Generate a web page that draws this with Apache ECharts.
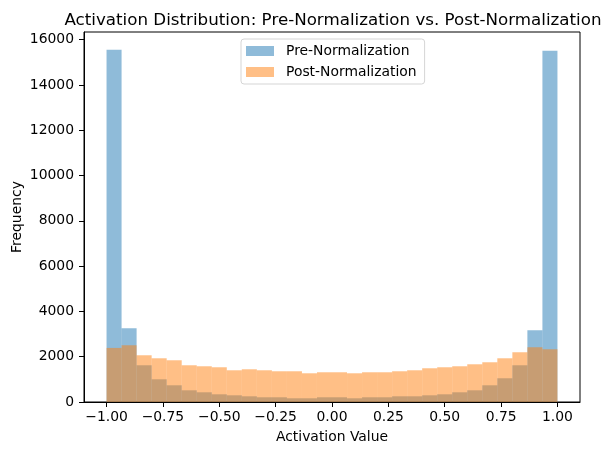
<!DOCTYPE html>
<html>
<head>
<meta charset="utf-8">
<script src="https://cdn.jsdelivr.net/npm/echarts@6/dist/echarts.min.js"></script>
<style>html,body{margin:0;padding:0;background:#fff}#c{width:608px;height:455px}</style>
</head>
<body>
<div id="c"></div>
<script>
// 30 equal bins over [-1, 1]
const binStart = -1;
const binEnd = 1;
const binCount = 30;
const preCounts = [15560, 3257, 1622, 1003, 738, 517, 429, 340, 296, 252, 208, 208, 164, 164, 208,
                   208, 164, 208, 208, 252, 252, 296, 340, 429, 517, 738, 1048, 1622, 3169, 15510];
const postCounts = [2388, 2506, 2064, 1931, 1843, 1622, 1578, 1534, 1401, 1445, 1401, 1357, 1357, 1268, 1313,
                    1313, 1268, 1313, 1313, 1357, 1401, 1490, 1534, 1578, 1666, 1755, 1931, 2197, 2418, 2329];
const xTicks = [-1, -0.75, -0.5, -0.25, 0, 0.25, 0.5, 0.75, 1];
const yTicks = [0, 2000, 4000, 6000, 8000, 10000, 12000, 14000, 16000];
const seriesNames = ['Pre-Normalization', 'Post-Normalization'];

const binW = (binEnd - binStart) / binCount;
function toRows(counts) {
  return counts.map((c, i) => [binStart + i * binW, binStart + (i + 1) * binW, c]);
}
function renderHist(params, api) {
  const a = api.coord([api.value(0), api.value(2)]);
  const b = api.coord([api.value(1), 0]);
  return {
    type: 'rect',
    shape: { x: a[0], y: a[1], width: b[0] - a[0], height: b[1] - a[1] },
    style: { fill: api.visual('color') }
  };
}
const FONT = 'DejaVu Sans';
const chart = echarts.init(document.getElementById('c'), null, { renderer: 'canvas' });
chart.setOption({
  animation: false,
  backgroundColor: '#fff',
  title: {
    text: 'Activation Distribution: Pre-Normalization vs. Post-Normalization',
    left: 328, top: 7, textAlign: 'center',
    textStyle: { fontFamily: FONT, fontSize: 16.7, fontWeight: 'normal', color: '#000' }
  },
  legend: {
    data: seriesNames,
    orient: 'vertical',
    left: 241, top: 39,
    icon: 'rect', itemWidth: 28, itemHeight: 10, itemGap: 5,
    padding: [4, 8, 4, 5],
    borderColor: '#d5d5d5', borderWidth: 1, borderRadius: 3,
    textStyle: { fontFamily: FONT, fontSize: 13.9, color: '#000', lineHeight: 16, padding: [0, 0, 0, 7] }
  },
  grid: { left: 84, right: 28, top: 32, bottom: 53, containLabel: false, outerBoundsMode: 'none',
    show: true, borderColor: '#000', borderWidth: 1, backgroundColor: 'transparent' },
  xAxis: {
    type: 'value', min: -1.1, max: 1.1,
    name: 'Activation Value', nameLocation: 'middle', nameGap: 28, nameMoveOverlap: false,
    nameTextStyle: { fontFamily: FONT, fontSize: 13.9, color: '#000' },
    axisLine: { show: true, onZero: false, lineStyle: { color: '#000', width: 1 } },
    axisTick: { show: true, customValues: xTicks, length: 5, lineStyle: { color: '#000' } },
    axisLabel: { customValues: xTicks, margin: 8, fontFamily: FONT, fontSize: 13.9, color: '#000',
      formatter: v => (v < 0 ? '\u2212' : '') + Math.abs(v).toFixed(2) },
    splitLine: { show: false }
  },
  yAxis: {
    type: 'value', min: 0, max: 16340,
    name: 'Frequency', nameLocation: 'middle', nameGap: 60, nameRotate: 90, nameMoveOverlap: false,
    nameTextStyle: { fontFamily: FONT, fontSize: 13.9, color: '#000' },
    axisLine: { show: true, onZero: false, lineStyle: { color: '#000', width: 1 } },
    axisTick: { show: true, customValues: yTicks, length: 5, lineStyle: { color: '#000' } },
    axisLabel: { customValues: yTicks, margin: 10, fontFamily: FONT, fontSize: 13.9, color: '#000',
      formatter: v => String(v) },
    splitLine: { show: false }
  },
  series: [
    { name: seriesNames[0], type: 'custom', renderItem: renderHist, data: toRows(preCounts),
      encode: { x: [0, 1], y: 2 }, itemStyle: { color: 'rgba(31,119,180,0.5)' } },
    { name: seriesNames[1], type: 'custom', renderItem: renderHist, data: toRows(postCounts),
      encode: { x: [0, 1], y: 2 }, itemStyle: { color: 'rgba(255,127,14,0.5)' } }
  ]
});
</script>
</body>
</html>
